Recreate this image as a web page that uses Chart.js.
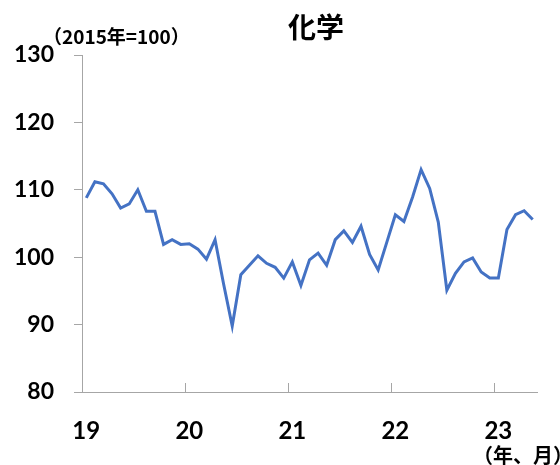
<!DOCTYPE html>
<html>
<head>
<meta charset="utf-8">
<script src="https://cdn.jsdelivr.net/npm/chart.js@4.4.1/dist/chart.umd.min.js"></script>
<style>
  html, body { margin: 0; padding: 0; background: #fff; }
  #wrap { width: 560px; height: 465px; }
</style>
</head>
<body>
<div id="wrap"><canvas id="chart" width="560" height="465"></canvas></div>
<script>
// 年ラベル（目盛り）
const yearTicks = ["19", "20", "21", "22", "23"];

// 月次の指数（2015年=100）
const v2019 = [108.8, 111.2, 110.9, 109.4, 107.3, 107.9, 110.0, 106.8, 106.8, 101.9, 102.6, 101.9];
const v2020 = [102.0, 101.2, 99.7, 102.6, 96.0, 89.8, 97.4, 98.8, 100.2, 99.1, 98.5, 96.9];
const v2021 = [99.3, 95.8, 99.6, 100.6, 98.8, 102.6, 103.9, 102.2, 104.6, 100.4, 98.1, 102.2];
const v2022 = [106.3, 105.3, 108.9, 113.0, 110.2, 105.2, 95.1, 97.6, 99.3, 99.9, 97.8, 96.9];
const v2023 = [96.9, 104.1, 106.3, 106.9, 105.6];

const values = [].concat(v2019, v2020, v2021, v2022, v2023);

// カテゴリ（年-月）
const months = [];
values.forEach((_, i) => {
  const y = 2019 + Math.floor(i / 12);
  const m = (i % 12) + 1;
  months.push(y + "-" + String(m).padStart(2, "0"));
});

const yTicks = { min: 80, max: 130, step: 10 };

const AXIS = "#a6a6a6";
const NUM_FONT = "Lato, 'Liberation Sans', sans-serif";
const JP_FONT = "'Noto Sans CJK JP', sans-serif";

// 内向きの目盛りとテキスト
const extras = {
  id: "extras",
  afterDraw(chart) {
    const ctx = chart.ctx;
    const x = chart.scales.x;
    const area = chart.chartArea;
    const half = (x.getPixelForValue(1) - x.getPixelForValue(0)) / 2;
    ctx.save();
    ctx.strokeStyle = AXIS;
    ctx.lineWidth = 1;
    months.forEach((_, i) => {
      if (i % 12 !== 0) return;
      const px = Math.round(x.getPixelForValue(i) - half) + 0.5;
      ctx.beginPath();
      ctx.moveTo(px, area.bottom);
      ctx.lineTo(px, area.bottom - 9);
      ctx.stroke();
    });

    ctx.fillStyle = "#000";
    ctx.textBaseline = "middle";
    ctx.textAlign = "center";
    ctx.font = "bold 28px " + JP_FONT;
    ctx.fillText("化学", 316, 27);

    ctx.textAlign = "left";
    ctx.font = "bold 19px " + JP_FONT;
    ctx.fillText("（2015年=100）", 43, 37);

    ctx.font = "bold 20px " + JP_FONT;
    ctx.fillText("（年、月）", 473, 455);
    ctx.restore();
  }
};

new Chart(document.getElementById("chart"), {
  type: "line",
  data: {
    labels: months,
    datasets: [
      {
        data: values,
        borderColor: "#4472c4",
        borderWidth: 3,
        pointRadius: 0,
        tension: 0,
        fill: false
      }
    ]
  },
  options: {
    responsive: false,
    animation: false,
    layout: { padding: { top: 55, right: 23, left: 0, bottom: 0 } },
    plugins: {
      legend: { display: false },
      tooltip: { enabled: false }
    },
    scales: {
      x: {
        type: "category",
        offset: true,
        grid: { display: true, drawOnChartArea: false, drawTicks: false, color: "transparent" },
        border: { display: true, color: AXIS, width: 1 },
        ticks: {
          autoSkip: false,
          maxRotation: 0,
          padding: 25,
          color: "#000",
          font: { family: NUM_FONT, size: 24, weight: "bold" },
          callback: (v, i) => (i % 12 === 0 ? yearTicks[i / 12] : "")
        },
        afterFit: (scale) => { scale.height = 73; }
      },
      y: {
        min: yTicks.min,
        max: yTicks.max,
        grid: { drawOnChartArea: false, drawTicks: true, tickLength: 8, color: AXIS },
        border: { display: true, color: AXIS, width: 1 },
        ticks: {
          stepSize: yTicks.step,
          padding: 20,
          color: "#000",
          font: { family: NUM_FONT, size: 23, weight: "bold" }
        },
        afterFit: (scale) => { scale.width = 82; }
      }
    }
  },
  plugins: [extras]
});
</script>
</body>
</html>
